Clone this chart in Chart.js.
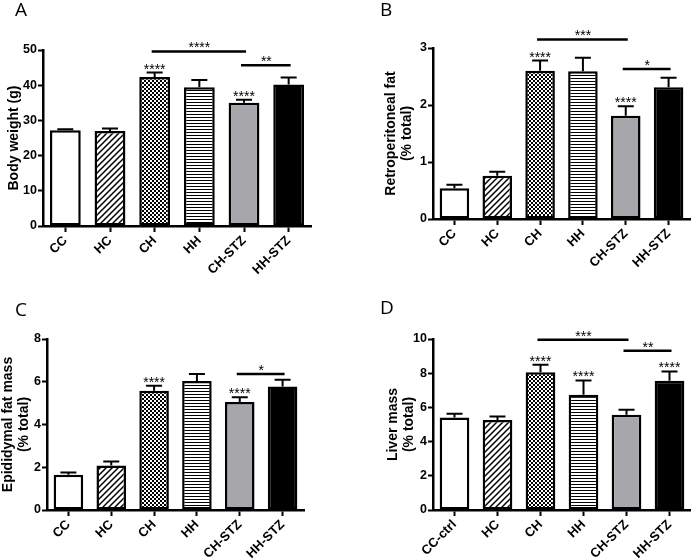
<!DOCTYPE html>
<html><head><meta charset="utf-8">
<script src="https://cdn.jsdelivr.net/npm/chart.js@4/dist/chart.umd.min.js"></script>
<style>
html,body{margin:0;padding:0;background:#fff;}
#wrap{position:relative;width:691px;height:560px;overflow:hidden;background:#fff;}
canvas{position:absolute;}
.lbl{position:absolute;font-family:'Open Sans',sans-serif;font-size:19px;line-height:19px;color:#000;}
</style></head><body>
<div id="wrap">
<canvas id="cA" width="345" height="280" style="left:0px;top:0px"></canvas>
<canvas id="cB" width="346" height="280" style="left:345px;top:0px"></canvas>
<canvas id="cC" width="345" height="280" style="left:0px;top:280px"></canvas>
<canvas id="cD" width="346" height="280" style="left:345px;top:280px"></canvas>
<div class="lbl" style="left:15px;top:0px">A</div>
<div class="lbl" style="left:380px;top:0px">B</div>
<div class="lbl" style="left:15px;top:300px">C</div>
<div class="lbl" style="left:380px;top:298px">D</div>
</div>
<script>
// ---- data ----
const groupsABC = ['CC', 'HC', 'CH', 'HH', 'CH-STZ', 'HH-STZ'];
const groupsD = ['CC-ctrl', 'HC', 'CH', 'HH', 'CH-STZ', 'HH-STZ'];

const bodyWeight = [27.2, 27.0, 42.3, 39.4, 35.0, 40.2];
const bodyWeightErr = [0.3, 0.7, 1.3, 2.1, 0.9, 2.0];
const bodyWeightStars = ['', '', '****', '', '****', ''];
const bodyWeightBrackets = [[2, 4, 49.6, '****'], [4, 5, 45.7, '**']];

const retroFat = [0.54, 0.76, 2.60, 2.59, 1.81, 2.31];
const retroFatErr = [0.06, 0.07, 0.18, 0.24, 0.17, 0.17];
const retroFatStars = ['', '', '****', '', '****', ''];
const retroFatBrackets = [[2, 4, 3.15, '***'], [4, 5, 2.63, '*']];

const epiFat = [1.65, 2.08, 5.58, 6.03, 5.05, 5.78];
const epiFatErr = [0.10, 0.19, 0.23, 0.33, 0.22, 0.31];
const epiFatStars = ['', '', '****', '', '****', ''];
const epiFatBrackets = [[4, 5, 6.36, '*']];

const liverMass = [5.41, 5.27, 8.05, 6.74, 5.57, 7.56];
const liverMassErr = [0.22, 0.20, 0.45, 0.84, 0.29, 0.54];
const liverMassStars = ['', '', '****', '****', '', '****'];
const liverMassBrackets = [[2, 4, 9.96, '***'], [4, 5, 9.31, '**']];

// ---- styles ----
const FONT = "'Liberation Sans', Arial, sans-serif";
function tile(w, h, draw) {
  const c = document.createElement('canvas');
  c.width = w; c.height = h;
  const g = c.getContext('2d');
  g.fillStyle = '#fff'; g.fillRect(0, 0, w, h);
  g.fillStyle = '#000'; g.strokeStyle = '#000';
  draw(g);
  return document.createElement('canvas').getContext('2d').createPattern(c, 'repeat');
}
const hatch = tile(6, 6, g => {
  g.lineWidth = 1.5;
  g.beginPath();
  g.moveTo(-1, 7); g.lineTo(7, -1);
  g.moveTo(-4, 4); g.lineTo(4, -4);
  g.moveTo(2, 10); g.lineTo(10, 2);
  g.stroke();
});
const checker = tile(4, 4, g => { g.fillRect(0, 0, 2, 2); g.fillRect(2, 2, 2, 2); });
const stripes = tile(3, 3, g => { g.fillRect(0, 0, 3, 1); });
const fills = ['#ffffff', hatch, checker, stripes, '#a7a7ab', '#000000'];

const annot = {
  id: 'annot',
  afterDatasetsDraw(chart, args, opts) {
    const ctx = chart.ctx, xs = chart.scales.x, ys = chart.scales.y;
    const meta = chart.getDatasetMeta(0);
    const vals = chart.data.datasets[0].data;
    ctx.save();
    ctx.strokeStyle = '#000'; ctx.fillStyle = '#000';
    ctx.lineWidth = 2;
    ctx.font = '14px ' + FONT;
    ctx.textAlign = 'center'; ctx.textBaseline = 'alphabetic';
    meta.data.forEach((bar, i) => {
      const top = ys.getPixelForValue(vals[i]);
      const et = ys.getPixelForValue(vals[i] + opts.errors[i]);
      ctx.beginPath();
      ctx.moveTo(bar.x, top); ctx.lineTo(bar.x, et);
      ctx.moveTo(bar.x - 8, et); ctx.lineTo(bar.x + 8, et);
      ctx.stroke();
      if (opts.stars[i]) ctx.fillText(opts.stars[i], bar.x, et + 1);
    });
    ctx.lineWidth = 2.5;
    opts.brackets.forEach(b => {
      const x1 = xs.getPixelForValue(b[0]), x2 = xs.getPixelForValue(b[1]);
      const yy = ys.getPixelForValue(b[2]);
      ctx.beginPath(); ctx.moveTo(x1 - 3, yy); ctx.lineTo(x2 + 2, yy); ctx.stroke();
      ctx.fillText(b[3], (x1 + x2) / 2, yy + 1);
    });
    ctx.restore();
  }
};

function panel(id, labels, values, errors, stars, brackets, yMax, step, title, area, titlePad) {
  const cv = document.getElementById(id);
  const W = cv.width, H = cv.height;
  new Chart(cv, {
    type: 'bar',
    data: { labels: labels, datasets: [{
      data: values, backgroundColor: fills, borderColor: '#000', borderWidth: 2.5,
      borderSkipped: false, barPercentage: 0.69, categoryPercentage: 1
    }]},
    plugins: [annot],
    options: {
      responsive: false, animation: false, devicePixelRatio: 1,
      layout: { padding: { top: area.top, right: W - area.right, left: 0, bottom: 0 } },
      plugins: { legend: { display: false }, tooltip: { enabled: false },
        annot: { errors: errors, stars: stars, brackets: brackets } },
      scales: {
        x: {
          offset: true,
          grid: { display: true, drawOnChartArea: false, offset: false, tickLength: 6, tickWidth: 2, tickColor: '#000' },
          border: { display: true, color: '#000', width: 2.5 },
          ticks: { color: '#000', font: { family: FONT, weight: 'bold', size: 13 }, minRotation: 45, maxRotation: 45, autoSkip: false, padding: 1 },
          afterFit: s => { s.height = H - area.bottom; }
        },
        y: {
          min: 0, max: yMax,
          grid: { display: true, drawOnChartArea: false, tickLength: 5, tickWidth: 2, tickColor: '#000' },
          border: { display: true, color: '#000', width: 2.5 },
          ticks: { stepSize: step, color: '#000', font: { family: FONT, weight: 'bold', size: 12.5 }, padding: 1 },
          title: { display: true, text: title, color: '#000', font: { family: FONT, weight: 'bold', size: 14, lineHeight: 1.08 }, padding: { top: titlePad, bottom: 0 } },
          afterFit: s => { s.width = area.left; }
        }
      }
    }
  });
}

panel('cA', groupsABC, bodyWeight, bodyWeightErr, bodyWeightStars, bodyWeightBrackets, 50, 10,
  'Body weight (g)', { left: 43, right: 311, top: 50, bottom: 226 }, 7);
panel('cB', groupsABC, retroFat, retroFatErr, retroFatStars, retroFatBrackets, 3, 1,
  ['Retroperitoneal fat', '(% total)'], { left: 88, right: 345, top: 48, bottom: 219 }, 39);
panel('cC', groupsABC, epiFat, epiFatErr, epiFatStars, epiFatBrackets, 8, 2,
  ['Epididymal fat mass', '(% total)'], { left: 47, right: 304, top: 59, bottom: 230 }, 1);
panel('cD', groupsD, liverMass, liverMassErr, liverMassStars, liverMassBrackets, 10, 2,
  ['Liver mass', '(% total)'], { left: 88, right: 346, top: 59, bottom: 230 }, 41);
</script>
</body></html>
